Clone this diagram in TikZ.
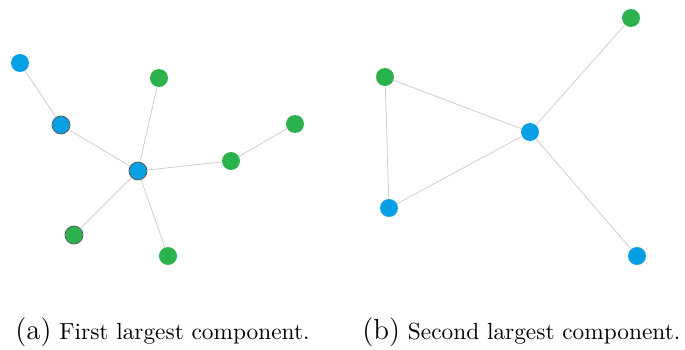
\documentclass[tikz,border=0pt]{standalone}
\begin{document}
\begin{tikzpicture}[x=0.45pt,y=-0.45pt,
  edge/.style={draw=black!20, line width=0.35pt},
  vb/.style={circle, fill=nblue, minimum size=18*0.45pt, inner sep=0pt},
  vg/.style={circle, fill=ngreen, minimum size=18*0.45pt, inner sep=0pt},
  ol/.style={draw=black!65, line width=0.35pt},
  captext/.style={anchor=base west, inner sep=0pt}]
\definecolor{nblue}{RGB}{8,160,228}
\definecolor{ngreen}{RGB}{44,178,76}
\useasboundingbox (0,0) rectangle (685,350);
% (a)
\node[vb] (a1) at (20,63) {};
\node[vb,ol] (a2) at (61,125) {};
\node[vb,ol] (a3) at (138,171) {};
\node[vg] (a4) at (159,78) {};
\node[vg] (a5) at (231,161) {};
\node[vg] (a6) at (295,124) {};
\node[vg,ol] (a7) at (74,235) {};
\node[vg] (a8) at (168,256) {};
\draw[edge] (a1) -- (a2);
\draw[edge] (a2) -- (a3);
\draw[edge] (a3) -- (a4);
\draw[edge] (a3) -- (a5);
\draw[edge] (a5) -- (a6);
\draw[edge] (a3) -- (a7);
\draw[edge] (a3) -- (a8);
% (b)
\node[vg] (b1) at (631,18) {};
\node[vg] (b2) at (385,77) {};
\node[vb] (b3) at (530,132) {};
\node[vb] (b4) at (389,208) {};
\node[vb] (b5) at (637,256) {};
\draw[edge] (b2) -- (b3);
\draw[edge] (b2) -- (b4);
\draw[edge] (b4) -- (b3);
\draw[edge] (b3) -- (b1);
\draw[edge] (b3) -- (b5);
% captions
\node[captext] (ca) at (15,340) {\fontsize{13}{15}\selectfont(a)\fontsize{10.5}{12}\selectfont\ First largest component.};
\node[captext] (cb) at (362,340) {\fontsize{13}{15}\selectfont(b)\fontsize{10.5}{12}\selectfont\ Second largest component.};
\end{tikzpicture}
\end{document}
